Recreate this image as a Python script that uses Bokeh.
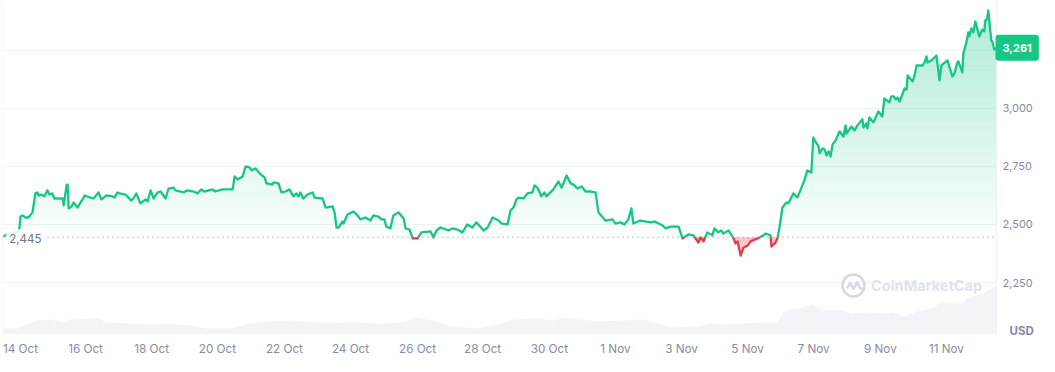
import numpy as np
from bokeh.plotting import figure
from bokeh.models import FixedTicker, Range1d, LinearAxis, Label, Span, NumeralTickFormatter
from bokeh.embed import file_html
from bokeh.resources import INLINE

base_price = 2445
last_price = 3261
price_ticks = [2250, 2500, 2750, 3000]
grid_ticks = [2250, 2500, 2750, 3000, 3250]
date_labels = ["14 Oct", "16 Oct", "18 Oct", "20 Oct", "22 Oct", "24 Oct", "26 Oct", "28 Oct",
               "30 Oct", "1 Nov", "3 Nov", "5 Nov", "7 Nov", "9 Nov", "11 Nov"]
date_ticks = [0, 1.96, 3.95, 5.93, 7.95, 9.94, 11.96, 13.92, 15.93, 17.92, 19.91, 21.90, 23.89, 25.90, 27.89]

# days since 14 Oct
days = [-.51,-.36,-.06,-.03,0,.06,.15,.24,.36,.45,.51,.54,.63,.72,.81,.87,.96,1.02,1.11,1.27,1.30,1.39,1.42,1.45,1.54,1.60,1.72,1.81,1.87,1.93,
2.11,2.20,2.35,2.44,2.59,2.77,2.83,2.92,2.98,3.16,3.34,3.40,3.49,3.61,3.77,3.83,3.92,4.01,4.13,4.22,4.37,4.46,4.61,4.67,4.82,4.91,5.03,5.21,5.33,5.45,
5.54,5.78,5.87,6.08,6.39,6.45,6.54,6.69,6.78,6.90,6.96,7.08,7.23,7.35,7.41,7.59,7.62,7.77,7.86,7.98,8.10,8.22,8.31,8.37,8.43,8.52,8.64,8.80,8.86,9.10,
9.19,9.40,9.46,9.52,9.58,9.70,9.73,9.85,9.97,10.03,10.15,10.24,10.39,10.54,10.63,10.78,10.87,10.96,11.02,11.14,11.23,11.39,11.54,11.60,11.72,11.81,11.96,12.08,12.35,12.44,
12.53,12.65,12.89,13.01,13.16,13.31,13.46,13.61,13.73,13.95,14.07,14.22,14.40,14.49,14.67,14.76,14.85,14.94,15.00,15.15,15.27,15.42,15.48,15.57,15.69,15.78,15.84,16.05,16.20,16.30,
16.45,16.57,16.66,16.78,16.90,17.02,17.17,17.32,17.41,17.62,17.83,17.92,18.07,18.19,18.31,18.40,18.46,18.67,18.98,19.10,19.34,19.43,19.58,19.82,19.94,20.12,20.27,20.42,20.48,20.57,
20.69,20.84,20.90,21.02,21.11,21.17,21.33,21.48,21.54,21.60,21.69,21.78,21.90,21.99,22.20,22.38,22.44,22.59,22.62,22.74,22.80,22.86,22.95,23.07,23.13,23.28,23.40,23.49,23.61,23.70,
23.82,23.88,23.98,24.04,24.07,24.16,24.22,24.28,24.34,24.40,24.46,24.55,24.67,24.79,24.85,24.88,25.03,25.12,25.21,25.36,25.39,25.48,25.51,25.57,25.69,25.84,25.96,26.02,26.17,26.23,
26.30,26.36,26.42,26.48,26.63,26.69,26.72,26.87,26.93,26.99,27.17,27.23,27.29,27.32,27.44,27.59,27.68,27.74,27.92,28.07,28.13,28.22,28.25,28.37,28.40,28.49,28.55,28.58,28.64,28.70,
28.76,28.88,28.97,29.03,29.06,29.12,29.15,29.24,29.27,29.33,29.39]

prices = [2448,2461,2470,2487,2534,2539,2530,2530,2552,2634,2638,2625,2629,2621,2647,2629,2634,2612,2612,2612,2582,2672,2672,2569,2578,2595,2573,2595,2608,2625,
2616,2612,2638,2608,2625,2621,2616,2638,2634,2629,2603,2612,2634,2591,2608,2599,2647,2612,2638,2642,2612,2655,2659,2647,2642,2638,2647,2642,2634,2651,
2642,2651,2642,2651,2651,2707,2694,2707,2750,2746,2733,2741,2716,2703,2677,2672,2681,2677,2638,2642,2651,2621,2634,2621,2638,2612,2629,2638,2616,2612,
2573,2578,2552,2487,2487,2513,2504,2543,2552,2556,2539,2522,2530,2517,2539,2534,2522,2522,2491,2483,2539,2552,2526,2483,2478,2440,2440,2466,2470,2444,
2474,2487,2474,2483,2478,2466,2500,2487,2509,2474,2487,2530,2517,2504,2500,2560,2573,2608,2616,2612,2634,2638,2668,2659,2621,2638,2621,2651,2685,2659,
2711,2677,2672,2655,2664,2642,2642,2638,2552,2517,2522,2504,2509,2500,2522,2569,2504,2517,2509,2513,2496,2483,2491,2491,2440,2457,2453,2422,2444,2427,
2466,2453,2483,2466,2474,2461,2474,2440,2418,2427,2366,2401,2409,2427,2440,2453,2461,2453,2405,2422,2440,2487,2573,2595,2591,2634,2616,2647,2690,2733,
2724,2875,2849,2836,2806,2828,2823,2797,2815,2793,2845,2862,2901,2879,2927,2892,2922,2905,2927,2953,2918,2935,2914,2961,2940,2987,2965,3043,3026,3052,
3052,3039,3047,3030,3086,3082,3142,3116,3142,3185,3185,3198,3224,3198,3207,3228,3121,3185,3207,3138,3151,3198,3203,3155,3237,3284,3328,3310,3345,3328,
3375,3310,3340,3332,3379,3388,3422,3293,3289,3254,3261]

vol_days = [-.54,-.06,0,.30,.45,.90,1.36,1.51,2.41,2.56,3.31,3.92,4.52,5.12,5.57,6.33,6.78,7.38,8.13,9.04,9.64,9.94,10.54,11.14,11.60,11.96,12.56,12.95,13.77,14.37,
14.85,15.57,16.05,16.36,17.38,18.77,19.19,19.58,20.39,20.78,21.08,21.69,22.29,22.80,22.98,23.13,23.49,23.86,24.19,24.70,25.00,25.60,25.90,26.30,26.60,27.02,27.50,27.71,28.01,28.37,
28.52,29.00,29.39]
volumes = [6,6,8,11,14,15,12,15,16,12,11,10,11,9,6,6,10,13,14,12,12,13,11,11,13,17,13,8,6,10,
15,16,14,17,13,15,11,7,8,11,10,11,12,12,22,25,26,30,24,25,21,22,21,22,18,23,27,32,31,31,
37,41,49]

GREEN = "#16C784"
RED = "#EA3943"
GRID = "#EFF2F5"
TICK = "#858CA2"
FONT = "Inter"

X0, X1 = -0.542, 29.398
Y0, Y1 = 2026, 3465

p = figure(width=1055, height=372, frame_width=994, frame_height=334,
           min_border_left=2, min_border_right=59, min_border_top=0, min_border_bottom=38,
           x_range=Range1d(X0, X1), y_range=Range1d(Y0, Y1), y_axis_location="right",
           output_backend="svg", toolbar_location=None, outline_line_color=None,
           background_fill_color="white", border_fill_color="white")
p.styles = {"position": "absolute", "left": "0px", "top": "0px"}
p.extra_y_ranges = {"vol": Range1d(0, 334)}

# axes
p.xaxis.ticker = FixedTicker(ticks=date_ticks)
p.xaxis.major_label_overrides = dict(zip(date_ticks, date_labels))
p.yaxis.ticker = FixedTicker(ticks=price_ticks)
p.yaxis.formatter = NumeralTickFormatter(format="0,0")
for ax in (p.xaxis[0], p.yaxis[0]):
    ax.major_tick_line_color = None
    ax.minor_tick_line_color = None
    ax.major_label_text_font = FONT
    ax.major_label_text_color = TICK
p.xaxis.major_label_text_font_size = "11.7px"
p.yaxis.major_label_text_font_size = "11px"
p.xaxis.axis_line_color = None
p.xaxis.major_label_standoff = 1
p.yaxis.axis_line_color = GRID
p.yaxis.major_label_standoff = 0
p.xgrid.visible = False
p.ygrid.ticker = FixedTicker(ticks=grid_ticks)
p.ygrid.grid_line_color = GRID
p.add_layout(Span(location=X0, dimension="height", line_color=GRID, line_width=1))

# volume
p.varea(vol_days, [0] * len(vol_days), volumes, y_range_name="vol", fill_color="#F2F4F8")

# gradient fill from bands, above and below the opening price
xd = np.linspace(days[0], days[-1], 1000)
yd = np.interp(xd, days, prices)
edges = np.arange(base_price, max(prices) + 13, 13)
for a, b in zip(edges[:-1], edges[1:]):
    alpha = 0.017 + (a + 6.5 - base_price) * 0.000339
    p.varea(xd, np.full_like(xd, a), np.clip(yd, a, b), fill_color=GREEN, fill_alpha=alpha)
edges = np.arange(base_price, min(prices) - 8, -8)
for a, b in zip(edges[:-1], edges[1:]):
    alpha = max(0.1, 0.3 - (base_price - a) * 0.002)
    p.varea(xd, np.clip(yd, b, a), np.full_like(xd, a), fill_color=RED, fill_alpha=alpha)

# price line split at the opening price
d = np.array(days)
v = np.array(prices, dtype=float)
cross = []
for i in range(len(d) - 1):
    if (v[i] - base_price) * (v[i + 1] - base_price) < 0:
        cross.append(d[i] + (base_price - v[i]) / (v[i + 1] - v[i]) * (d[i + 1] - d[i]))
xs = np.sort(np.concatenate([d, cross]))
ys = np.interp(xs, d, v)
ys[np.isin(xs, cross)] = base_price
p.line(xs, np.where(ys >= base_price, ys, np.nan), line_color=GREEN, line_width=2.3, line_join="round")
p.line(xs, np.where(ys <= base_price, ys, np.nan), line_color=RED, line_width=2.3, line_join="round")

# opening price
p.add_layout(Span(location=base_price, dimension="width", line_color="#858CA2", line_width=1, line_dash="1 4"))
p.add_layout(Label(x=-0.43, y=base_price, text=f"{base_price:,}", text_font=FONT, text_font_size="11.5px",
                   text_color="#6B7491", text_baseline="top", y_offset=8, x_offset=0,
                   background_fill_color="white", background_fill_alpha=0.88, padding=(3, 5), border_radius=4))

# watermark
logo_x, logo_y = 25.09, 2237
p.scatter([logo_x], [logo_y], size=22, marker="circle", fill_color=None, line_color="#D3D9E6", line_width=2.5)
p.line([24.89, 25.0, 25.09, 25.2, 25.28, 25.36], [2225, 2248, 2222, 2252, 2226, 2222],
       line_color="#D3D9E6", line_width=2.5, line_join="round")
p.add_layout(Label(x=25.62, y=logo_y, text="CoinMarketCap", text_font=FONT, text_font_size="14.5px",
                   text_font_style="bold", text_color="#DFE3EC", text_baseline="middle"))

# last price tag and currency, in the panel right of the plot
p.add_layout(Label(x=-40, x_units="screen", y=last_price, text=f"{last_price:,}", text_font=FONT,
                   text_font_size="11px", text_font_style="bold", text_color="white", text_baseline="middle",
                   background_fill_color=GREEN, padding=(7, 9), border_radius=3), "right")
p.add_layout(Label(x=-69, x_units="screen", y=2040, text="USD", text_font=FONT,
                   text_font_size="11.5px", text_font_style="bold", text_color=TICK, text_baseline="middle"), "right")

open("out.html", "w").write(file_html(p, INLINE))
